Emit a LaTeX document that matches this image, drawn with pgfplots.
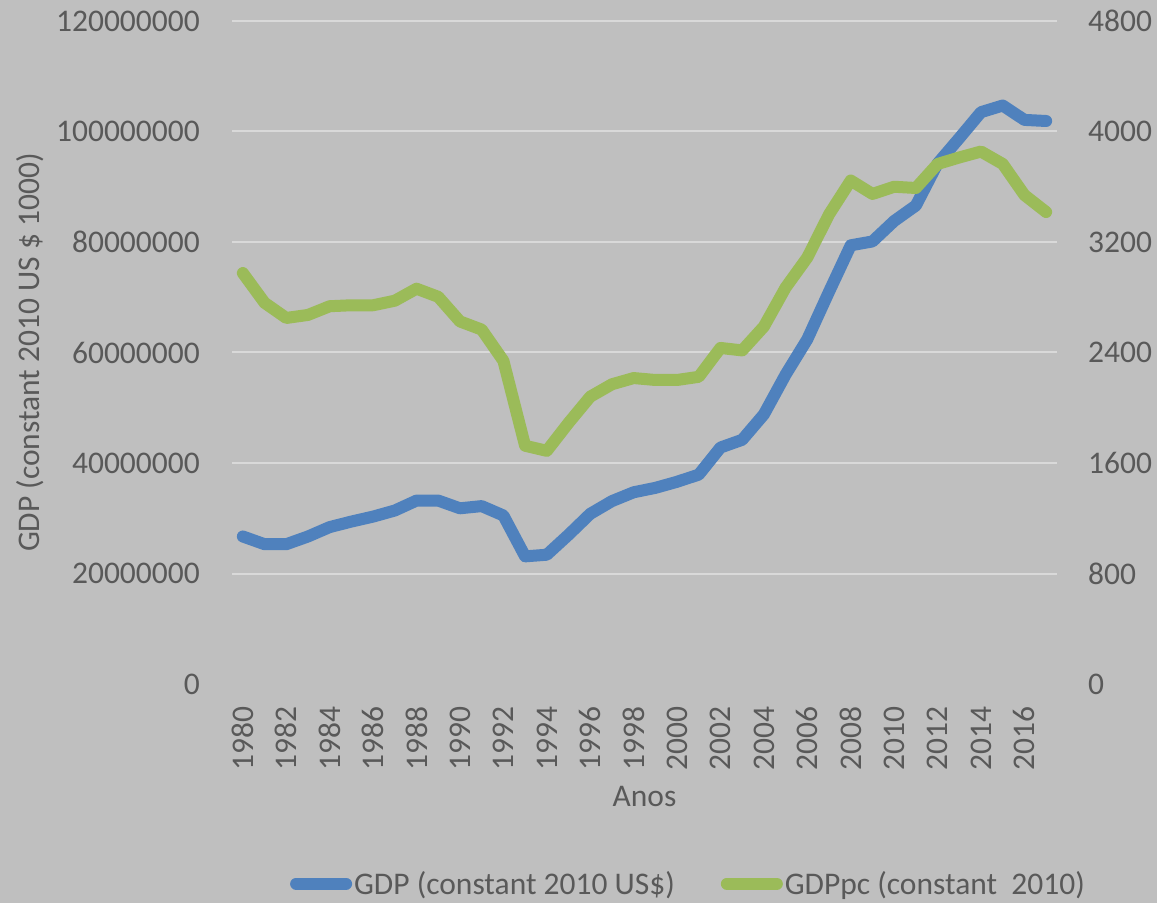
\documentclass[border=0pt]{standalone}
\usepackage{fontspec}
\setmainfont{Carlito}
\usepackage{pgfplots}
\pgfplotsset{compat=1.18}
\definecolor{bg}{HTML}{BFBFBF}
\definecolor{gridc}{HTML}{D9D9D9}
\definecolor{txt}{HTML}{595959}
\definecolor{gdpblue}{HTML}{4F81BD}
\definecolor{gdpgreen}{HTML}{9BBB59}
\newcommand{\bigf}{\fontsize{31.5}{37}\selectfont}
\begin{document}
\begin{tikzpicture}
\fill[bg] (0,0) rectangle (1157pt,903pt);
\useasboundingbox (0,0) rectangle (1157pt,903pt);
\pgfplotsset{
  common/.style={
    scale only axis, width=825pt, height=663pt,
    at={(232pt,219pt)}, anchor=south west,
    xmin=1979.5, xmax=2017.5,
    axis line style={draw=none},
    major tick length=0pt,
    tick style={draw=none},
    tick label style={font=\bigf, text=txt},
    scaled y ticks=false,
    clip=false,
  }
}
\begin{axis}[common,
  ymin=0, ymax=120000000,
  ytick={20000000,40000000,60000000,80000000,100000000,120000000},
  yticklabels={20000000,40000000,60000000,80000000,100000000,120000000},
  extra y ticks={0}, extra y tick labels={0},
  extra y tick style={grid=none},
  ymajorgrids, grid style={gridc, line width=2pt},
  xtick={1980,1982,1984,1986,1988,1990,1992,1994,1996,1998,2000,2002,2004,2006,2008,2010,2012,2014,2016},
  xticklabels={1980,1982,1984,1986,1988,1990,1992,1994,1996,1998,2000,2002,2004,2006,2008,2010,2012,2014,2016},
  xticklabel style={rotate=90, anchor=east, inner sep=0pt},
  xticklabel shift=22pt,
  yticklabel style={anchor=east, inner sep=0pt},
  yticklabel shift=32pt,
  xlabel={Anos},
  ylabel={GDP (constant 2010 US \$ 1000)},
  every axis x label/.style={at={(axis description cs:0.5,-0.1704)}, anchor=center, font=\bigf, text=txt},
  every axis y label/.style={at={(axis description cs:-0.2448,0.5)}, rotate=90, anchor=center, font=\bigf, text=txt},
]
\addplot[gdpblue, line width=12pt, line join=round, line cap=round] coordinates {
(1980,26700000) (1981,25300000) (1982,25300000) (1983,26700000) (1984,28400000)
(1985,29400000) (1986,30300000) (1987,31400000) (1988,33200000) (1989,33200000)
(1990,31800000) (1991,32200000) (1992,30500000) (1993,23100000) (1994,23400000)
(1995,27000000) (1996,30800000) (1997,33100000) (1998,34700000) (1999,35500000)
(2000,36600000) (2001,37900000) (2002,42800000) (2003,44200000) (2004,48800000)
(2005,56000000) (2006,62400000) (2007,71000000) (2008,79400000) (2009,80100000)
(2010,83800000) (2011,86600000) (2012,94200000) (2013,98800000) (2014,103500000)
(2015,104700000) (2016,102100000) (2017,101900000)};
\end{axis}
\begin{axis}[common,
  ymin=0, ymax=4800,
  axis y line*=right, axis x line=none,
  ytick={0,800,1600,2400,3200,4000,4800},
  yticklabels={0,800,1600,2400,3200,4000,4800},
  yticklabel style={anchor=west, inner sep=0pt},
  yticklabel shift=31pt,
  legend columns=2,
  legend style={at={(axis description cs:0.5533,-0.3012)}, anchor=center,
    draw=none, fill=none, font=\bigf, text=txt, inner sep=0pt,
    nodes={inner xsep=2pt, inner ysep=0pt},
    /tikz/every even column/.append style={column sep=44pt}},
  legend image code/.code={\draw[#1, line width=12pt, line cap=round] (6pt,0pt) -- (56pt,0pt);},
]
\addlegendimage{gdpblue}
\addlegendentry{GDP (constant 2010 US\$)}
\addplot[gdpgreen, line width=12pt, line join=round, line cap=round] coordinates {
(1980,2975) (1981,2760) (1982,2650) (1983,2672) (1984,2735)
(1985,2742) (1986,2742) (1987,2775) (1988,2862) (1989,2803)
(1990,2625) (1991,2566) (1992,2340) (1993,1725) (1994,1688)
(1995,1890) (1996,2080) (1997,2170) (1998,2215) (1999,2201)
(2000,2201) (2001,2224) (2002,2433) (2003,2415) (2004,2588)
(2005,2870) (2006,3088) (2007,3400) (2008,3645) (2009,3548)
(2010,3600) (2011,3591) (2012,3765) (2013,3812) (2014,3855)
(2015,3765) (2016,3540) (2017,3417)};
\addlegendentry{GDPpc (constant\ \ 2010)}
\end{axis}
\end{tikzpicture}
\end{document}
